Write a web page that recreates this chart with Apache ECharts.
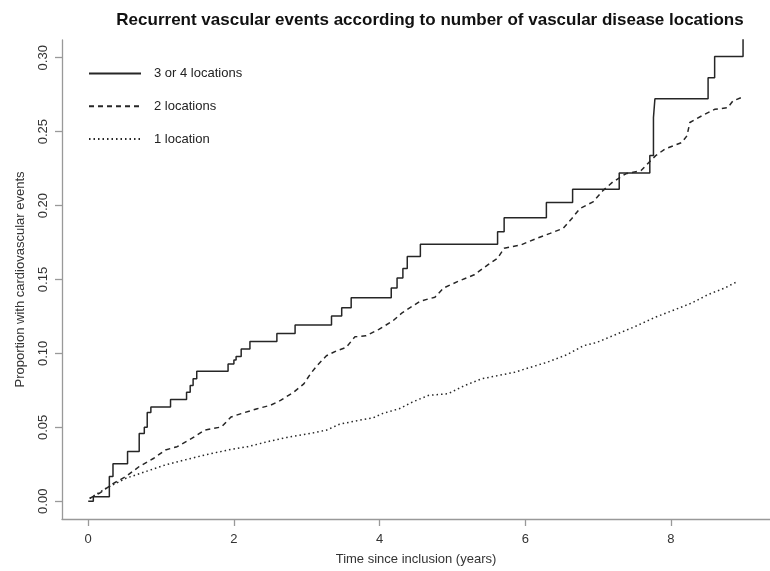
<!DOCTYPE html>
<html>
<head>
<meta charset="utf-8">
<script src="https://cdn.jsdelivr.net/npm/echarts@6/dist/echarts.min.js"></script>
<style>
html,body{margin:0;padding:0;background:#fff;}
#chart{width:770px;height:571px;}
</style>
</head>
<body>
<div id="chart"></div>
<script>
// ---- Data ----
var seriesNames = ['3 or 4 locations', '2 locations', '1 location'];
var xTicks = [0, 2, 4, 6, 8];
var yTicks = [0, 0.05, 0.10, 0.15, 0.20, 0.25, 0.30];

// 3 or 4 locations (step function, value after event at time t)
var solidTimes  = [0.00, 0.07, 0.29, 0.34, 0.54, 0.70, 0.77, 0.81, 0.86, 1.13, 1.35, 1.40, 1.44, 1.49, 1.92, 2.00, 2.03, 2.10, 2.22, 2.59, 2.84, 3.34, 3.48, 3.61, 4.16, 4.24, 4.32, 4.38, 4.56, 5.62, 5.71, 6.29, 6.65, 7.29, 7.71, 7.76, 7.78, 8.51, 8.60, 8.99];
var solidValues = [0.000, 0.003, 0.0168, 0.0253, 0.0336, 0.0458, 0.050, 0.060, 0.0638, 0.0689, 0.0738, 0.0783, 0.0828, 0.0879, 0.0928, 0.0955, 0.098, 0.103, 0.108, 0.1134, 0.1192, 0.1253, 0.1309, 0.1376, 0.1443, 0.151, 0.1575, 0.1655, 0.1738, 0.1823, 0.1917, 0.202, 0.211, 0.2221, 0.2338, 0.2595, 0.2723, 0.2864, 0.3009, 0.33];

// 2 locations
var dashTimes  = [0.02, 0.16, 0.34, 0.52, 0.70, 0.90, 1.06, 1.22, 1.42, 1.60, 1.83, 1.96, 2.10, 2.32, 2.50, 2.64, 2.82, 2.96, 3.05, 3.14, 3.27, 3.41, 3.54, 3.66, 3.81, 3.99, 4.18, 4.31, 4.56, 4.76, 4.88, 5.08, 5.30, 5.49, 5.62, 5.71, 5.94, 6.16, 6.34, 6.52, 6.64, 6.75, 6.93, 7.07, 7.20, 7.38, 7.59, 7.70, 7.79, 7.92, 8.15, 8.22, 8.26, 8.42, 8.60, 8.78, 8.85, 8.99];
var dashValues = [0.002, 0.0056, 0.0119, 0.0168, 0.0235, 0.0291, 0.0347, 0.0369, 0.0425, 0.0481, 0.0503, 0.057, 0.0593, 0.0626, 0.0649, 0.0682, 0.0738, 0.0794, 0.0861, 0.0917, 0.0984, 0.1018, 0.104, 0.1112, 0.1119, 0.1163, 0.1219, 0.1275, 0.1354, 0.138, 0.1443, 0.1488, 0.1532, 0.16, 0.1644, 0.1711, 0.1734, 0.1779, 0.1812, 0.1846, 0.1913, 0.198, 0.2025, 0.2103, 0.2159, 0.2215, 0.2237, 0.2293, 0.2338, 0.2383, 0.2427, 0.2472, 0.2562, 0.2606, 0.2651, 0.2662, 0.2707, 0.2736];

// 1 location
var dotTimes  = [0.02, 0.25, 0.52, 0.79, 1.06, 1.33, 1.60, 1.96, 2.19, 2.46, 2.73, 3.00, 3.27, 3.45, 3.72, 3.91, 4.04, 4.27, 4.45, 4.67, 4.94, 5.17, 5.40, 5.62, 5.85, 6.07, 6.30, 6.57, 6.80, 6.98, 7.20, 7.50, 7.79, 8.06, 8.29, 8.51, 8.74, 8.90];
var dotValues = [0.002, 0.0089, 0.0156, 0.0201, 0.0246, 0.028, 0.0313, 0.0351, 0.0369, 0.0403, 0.0432, 0.0454, 0.0481, 0.0521, 0.0548, 0.0564, 0.0593, 0.0626, 0.0671, 0.0716, 0.0727, 0.0783, 0.0828, 0.085, 0.0872, 0.0906, 0.094, 0.0991, 0.1052, 0.1074, 0.1119, 0.118, 0.1246, 0.1297, 0.1342, 0.1398, 0.1443, 0.1483];

function zip(a, b) { return a.map(function (t, i) { return [t, b[i]]; }); }

var FONT = '"Liberation Sans", Arial, Helvetica, sans-serif';
var LINE = '#262626';

var chart = echarts.init(document.getElementById('chart'), null, {renderer: 'canvas'});
chart.setOption({
  animation: false,
  backgroundColor: '#fff',
  title: {
    text: 'Recurrent vascular events according to number of vascular disease locations',
    left: 430, top: 12, textAlign: 'center', padding: 0,
    textStyle: {fontFamily: FONT, fontSize: 17, fontWeight: 'bold', color: '#111'}
  },
  legend: {
    orient: 'vertical', left: 88, top: 67, padding: 0,
    itemWidth: 52, itemHeight: 14, itemGap: 19.8,
    data: seriesNames,
    itemStyle: {opacity: 0, borderWidth: 0},
    textStyle: {fontFamily: FONT, fontSize: 13, color: '#222', padding: [0, 0, 0, 8]}
  },
  grid: {left: 62, top: 40, bottom: 48, right: -9},
  xAxis: {
    type: 'value', min: -0.36, max: 9.36,
    name: 'Time since inclusion (years)', nameLocation: 'middle', nameGap: 34,
    nameTextStyle: {fontFamily: FONT, fontSize: 13, color: '#333'},
    splitLine: {show: false},
    axisLine: {onZero: false, lineStyle: {color: '#999', width: 1.3}},
    axisTick: {customValues: xTicks, length: 7, lineStyle: {color: '#999', width: 1.3}},
    axisLabel: {customValues: xTicks, margin: 14, fontFamily: FONT, fontSize: 13, color: '#333'}
  },
  yAxis: {
    type: 'value', min: -0.012, max: 0.312,
    name: 'Proportion with cardiovascular events', nameLocation: 'middle', nameGap: 35,
    nameTextStyle: {fontFamily: FONT, fontSize: 13, color: '#333'},
    splitLine: {show: false},
    axisLine: {show: true, onZero: false, lineStyle: {color: '#999', width: 1.3}},
    axisTick: {show: true, customValues: yTicks, length: 7, lineStyle: {color: '#999', width: 1.3}},
    axisLabel: {customValues: yTicks, rotate: 90, margin: 12, fontFamily: FONT, fontSize: 13, color: '#333',
      formatter: function (v) { return v.toFixed(2); }}
  },
  series: [
    {name: seriesNames[0], type: 'line', step: 'end', symbol: 'none', clip: true,
     data: zip(solidTimes, solidValues),
     itemStyle: {color: LINE}, lineStyle: {color: LINE, width: 1.5, type: 'solid'}},
    {name: seriesNames[1], type: 'line', symbol: 'none', clip: true,
     data: zip(dashTimes, dashValues),
     itemStyle: {color: LINE}, lineStyle: {color: LINE, width: 1.5, type: [5, 4]}},
    {name: seriesNames[2], type: 'line', symbol: 'none', clip: true,
     data: zip(dotTimes, dotValues),
     itemStyle: {color: LINE}, lineStyle: {color: LINE, width: 1.5, type: [1.5, 3]}}
  ]
});
</script>
</body>
</html>
